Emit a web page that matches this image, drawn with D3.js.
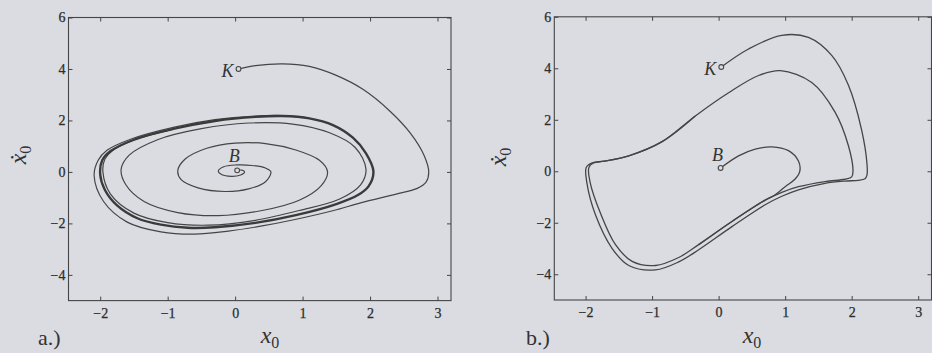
<!DOCTYPE html>
<html>
<head>
<meta charset="utf-8">
<script src="https://cdn.jsdelivr.net/npm/d3@7/dist/d3.min.js"></script>
<style>
  html, body { margin: 0; padding: 0; background: #dadce2; }
  svg { display: block; }
</style>
</head>
<body>
<svg id="fig" width="932" height="353"></svg>
<script>
// ---- axis ticks -------------------------------------------------------
const xTicks = [-2, -1, 0, 1, 2, 3];
const yTicks = [-4, -2, 0, 2, 4, 6];
const xDomain = [-2.47, 3.2];
const yDomain = [-5, 6];

// ---- panel a: phase portrait (x0, x0') --------------------------------
// closed attracting orbit
const limitCycleA = [
  [2.05, 0.02], [1.98, -0.55], [1.82, -0.9], [1.5, -1.25], [0.9, -1.68],
  [0.3, -1.98], [-0.3, -2.15], [-0.7, -2.17], [-1.1, -2.05], [-1.45, -1.8],
  [-1.75, -1.3], [-1.93, -0.7], [-2.0, -0.1], [-1.97, 0.45], [-1.85, 0.8],
  [-1.5, 1.25], [-0.9, 1.68], [-0.3, 1.98], [0.3, 2.14], [0.7, 2.17],
  [1.1, 2.08], [1.45, 1.82], [1.75, 1.32], [1.94, 0.72]
];
// trajectory starting at K
const trajKA = [
  [0.05, 4.0], [0.3, 4.13], [0.7, 4.2], [1.1, 4.1], [1.5, 3.75], [1.9, 3.2],
  [2.3, 2.35], [2.6, 1.5], [2.8, 0.65], [2.87, 0.0], [2.83, -0.4], [2.7, -0.64],
  [2.4, -0.85], [1.86, -1.2], [1.46, -1.5], [0.87, -1.86], [0.4, -2.1],
  [-0.1, -2.3], [-0.6, -2.42], [-1.1, -2.33], [-1.6, -1.95], [-1.95, -1.15],
  [-2.09, -0.15], [-2.03, 0.45], [-1.9, 0.84], [-1.55, 1.27], [-0.9, 1.74],
  [-0.3, 2.03], [0.3, 2.17], [0.7, 2.19], [1.1, 2.09]
];
// trajectory starting at B
const trajBA = [
  [0.03, 0.06], [0.1, 0.07], [0.14, 0.0], [0.08, -0.12], [-0.06, -0.17],
  [-0.2, -0.1], [-0.25, 0.03], [-0.17, 0.2], [0.02, 0.27], [0.25, 0.25],
  [0.45, 0.15], [0.53, 0.0], [0.45, -0.38], [0.2, -0.66], [-0.15, -0.76],
  [-0.55, -0.62], [-0.8, -0.3], [-0.85, 0.05], [-0.74, 0.5], [-0.42, 0.92],
  [0.0, 1.12], [0.45, 1.1], [0.9, 0.85], [1.25, 0.45], [1.37, 0.0],
  [1.27, -0.55], [0.95, -1.1], [0.4, -1.5], [-0.25, -1.7], [-0.85, -1.58],
  [-1.35, -1.15], [-1.62, -0.5], [-1.69, 0.1], [-1.57, 0.65], [-1.15, 1.25],
  [-0.5, 1.68], [0.2, 1.9], [0.85, 1.86], [1.4, 1.52], [1.78, 0.95],
  [1.94, 0.1], [1.86, -0.5], [1.55, -1.05], [0.95, -1.5], [0.3, -1.88],
  [-0.4, -2.07], [-1.0, -1.97], [-1.5, -1.6], [-1.85, -0.85], [-1.96, 0.0],
  [-1.93, 0.5], [-1.82, 0.82], [-1.5, 1.24], [-0.9, 1.67]
];

// ---- panel b ----------------------------------------------------------
const limitCycleB = [
  [0.93, 3.91], [1.4, 3.45], [1.75, 2.3], [1.95, 1.0], [2.02, 0.0],
  [2.0, -0.22], [1.9, -0.31], [1.6, -0.4], [1.2, -0.6], [0.95, -0.82],
  [0.7, -1.12], [0.2, -1.95], [-0.3, -2.85], [-0.6, -3.35], [-0.95, -3.66],
  [-1.3, -3.5], [-1.55, -2.85], [-1.78, -1.6], [-1.93, -0.45], [-1.95, 0.15],
  [-1.88, 0.32], [-1.72, 0.39], [-1.35, 0.6], [-0.85, 1.15], [-0.35, 2.15],
  [0.15, 3.05], [0.6, 3.72]
];
const trajKB = [
  [0.04, 4.05], [0.45, 4.75], [0.95, 5.28], [1.35, 5.2], [1.7, 4.5],
  [1.95, 3.35], [2.15, 1.6], [2.23, 0.3], [2.23, -0.15], [2.2, -0.29],
  [2.1, -0.35], [1.9, -0.38], [1.6, -0.47], [1.2, -0.72], [0.95, -0.97],
  [0.7, -1.3], [0.2, -2.15], [-0.3, -3.05], [-0.6, -3.52], [-0.95, -3.83],
  [-1.35, -3.66], [-1.6, -3.0], [-1.85, -1.7], [-1.98, -0.45], [-1.99, 0.15],
  [-1.9, 0.33], [-1.72, 0.39], [-1.35, 0.6], [-0.85, 1.15], [-0.35, 2.15]
];
const trajBB = [
  [0.03, 0.13], [0.3, 0.6], [0.55, 0.86], [0.8, 0.95], [1.05, 0.8],
  [1.2, 0.4], [1.22, 0.0], [1.15, -0.3], [1.0, -0.6], [0.83, -0.95],
  [0.7, -1.12], [0.2, -1.95], [-0.3, -2.85]
];

// ---- drawing ----------------------------------------------------------
const INK = '#454545';
const SERIF = '"Liberation Serif", "DejaVu Serif", serif';
const svg = d3.select('#fig');

const fmt = d => (d < 0 ? '\u2212' + Math.abs(d) : String(d));

function drawPanel(p) {
  const x = d3.scaleLinear().domain(xDomain).range(p.xRange);
  const y = d3.scaleLinear().domain(yDomain).range(p.yRange);
  const g = svg.append('g');
  const [x0, x1] = p.xRange, [yb, yt] = p.yRange;

  // frame
  g.append('rect')
    .attr('x', x0).attr('y', yt)
    .attr('width', x1 - x0).attr('height', yb - yt)
    .attr('fill', 'none').attr('stroke', INK).attr('stroke-width', 1.1);

  const styleAxis = (sel, labels) => {
    sel.attr('font-family', null).attr('font-size', null);
    sel.select('.domain').remove();
    sel.selectAll('line').attr('stroke', INK).attr('stroke-width', 1);
    sel.selectAll('text')
      .attr('fill', '#2c2c2c')
      .attr('stroke', '#2c2c2c').attr('stroke-width', 0.25)
      .style('font-family', SERIF)
      .style('font-size', '14px');
    if (!labels) sel.selectAll('text').remove();
  };

  g.append('g').attr('transform', `translate(0,${yb})`)
    .call(d3.axisBottom(x).tickValues(xTicks).tickSize(-4).tickPadding(7).tickFormat(fmt))
    .call(s => styleAxis(s, true));
  g.append('g').attr('transform', `translate(0,${yt})`)
    .call(d3.axisTop(x).tickValues(xTicks).tickSize(-4))
    .call(s => styleAxis(s, false));
  g.append('g').attr('transform', `translate(${x0},0)`)
    .call(d3.axisLeft(y).tickValues(yTicks).tickSize(-4).tickPadding(3).tickFormat(fmt))
    .call(s => styleAxis(s, true));
  g.append('g').attr('transform', `translate(${x1},0)`)
    .call(d3.axisRight(y).tickValues(yTicks).tickSize(-4))
    .call(s => styleAxis(s, false));

  // curves
  const open = d3.line().x(d => x(d[0])).y(d => y(d[1])).curve(d3.curveCatmullRom.alpha(0.5));
  const closed = d3.line().x(d => x(d[0])).y(d => y(d[1])).curve(d3.curveCatmullRomClosed.alpha(0.5));
  p.curves.forEach(c => {
    g.append('path')
      .attr('d', (c.closed ? closed : open)(c.data))
      .attr('fill', 'none')
      .attr('stroke', c.color || INK)
      .attr('stroke-width', c.width)
      .attr('stroke-linejoin', 'round');
  });

  // start points
  p.starts.forEach(s => {
    const [px, py] = [x(s.data[0][0]), y(s.data[0][1])];
    g.append('circle').attr('cx', px).attr('cy', py).attr('r', 2.4)
      .attr('fill', '#dcdde2').attr('stroke', INK).attr('stroke-width', 1.1);
    g.append('text').text(s.label)
      .attr('x', px + s.dx).attr('y', py + s.dy)
      .attr('text-anchor', s.anchor)
      .attr('fill', '#333')
      .style('font-family', SERIF).style('font-style', 'italic').style('font-size', '18px');
  });

  // axis titles
  const xt = g.append('text')
    .attr('x', p.xTitle[0]).attr('y', p.xTitle[1])
    .attr('text-anchor', 'middle').attr('fill', '#333')
    .style('font-family', SERIF).style('font-size', '24px');
  xt.append('tspan').text('x').style('font-style', 'italic');
  xt.append('tspan').text('0').attr('dy', 5).style('font-size', '16px');

  const yt2 = g.append('text')
    .attr('transform', `translate(${p.yTitle[0]},${p.yTitle[1]}) rotate(-90)`)
    .attr('text-anchor', 'middle').attr('fill', '#333')
    .style('font-family', SERIF).style('font-size', '24px');
  yt2.append('tspan').text('\u1E8B').style('font-style', 'italic');
  yt2.append('tspan').text('0').attr('dy', 5).style('font-size', '16px');

  // panel tag
  g.append('text').text(p.tag)
    .attr('x', p.tagPos[0]).attr('y', p.tagPos[1])
    .attr('fill', '#333')
    .style('font-family', SERIF).style('font-size', '22px');
}

drawPanel({
  xRange: [68.5, 451], yRange: [300.6, 17.5],
  curves: [
    { data: trajKA, width: 1.2 },
    { data: trajBA, width: 1.2 },
    { data: limitCycleA, width: 2.4, closed: true, color: '#3a3a3a' }
  ],
  starts: [
    { data: trajKA, label: 'K', dx: -5, dy: 8, anchor: 'end' },
    { data: trajBA, label: 'B', dx: -3, dy: -8, anchor: 'middle' }
  ],
  xTitle: [270, 343], yTitle: [26, 155], tag: 'a.)', tagPos: [38, 345]
});

drawPanel({
  xRange: [554.3, 931.5], yRange: [300, 16.8],
  curves: [
    { data: trajKB, width: 1.3 },
    { data: trajBB, width: 1.3 },
    { data: limitCycleB, width: 1.3, closed: true }
  ],
  starts: [
    { data: trajKB, label: 'K', dx: -5, dy: 8, anchor: 'end' },
    { data: trajBB, label: 'B', dx: -3, dy: -7, anchor: 'middle' }
  ],
  xTitle: [752, 343], yTitle: [506, 157], tag: 'b.)', tagPos: [526, 345]
});
</script>
</body>
</html>
